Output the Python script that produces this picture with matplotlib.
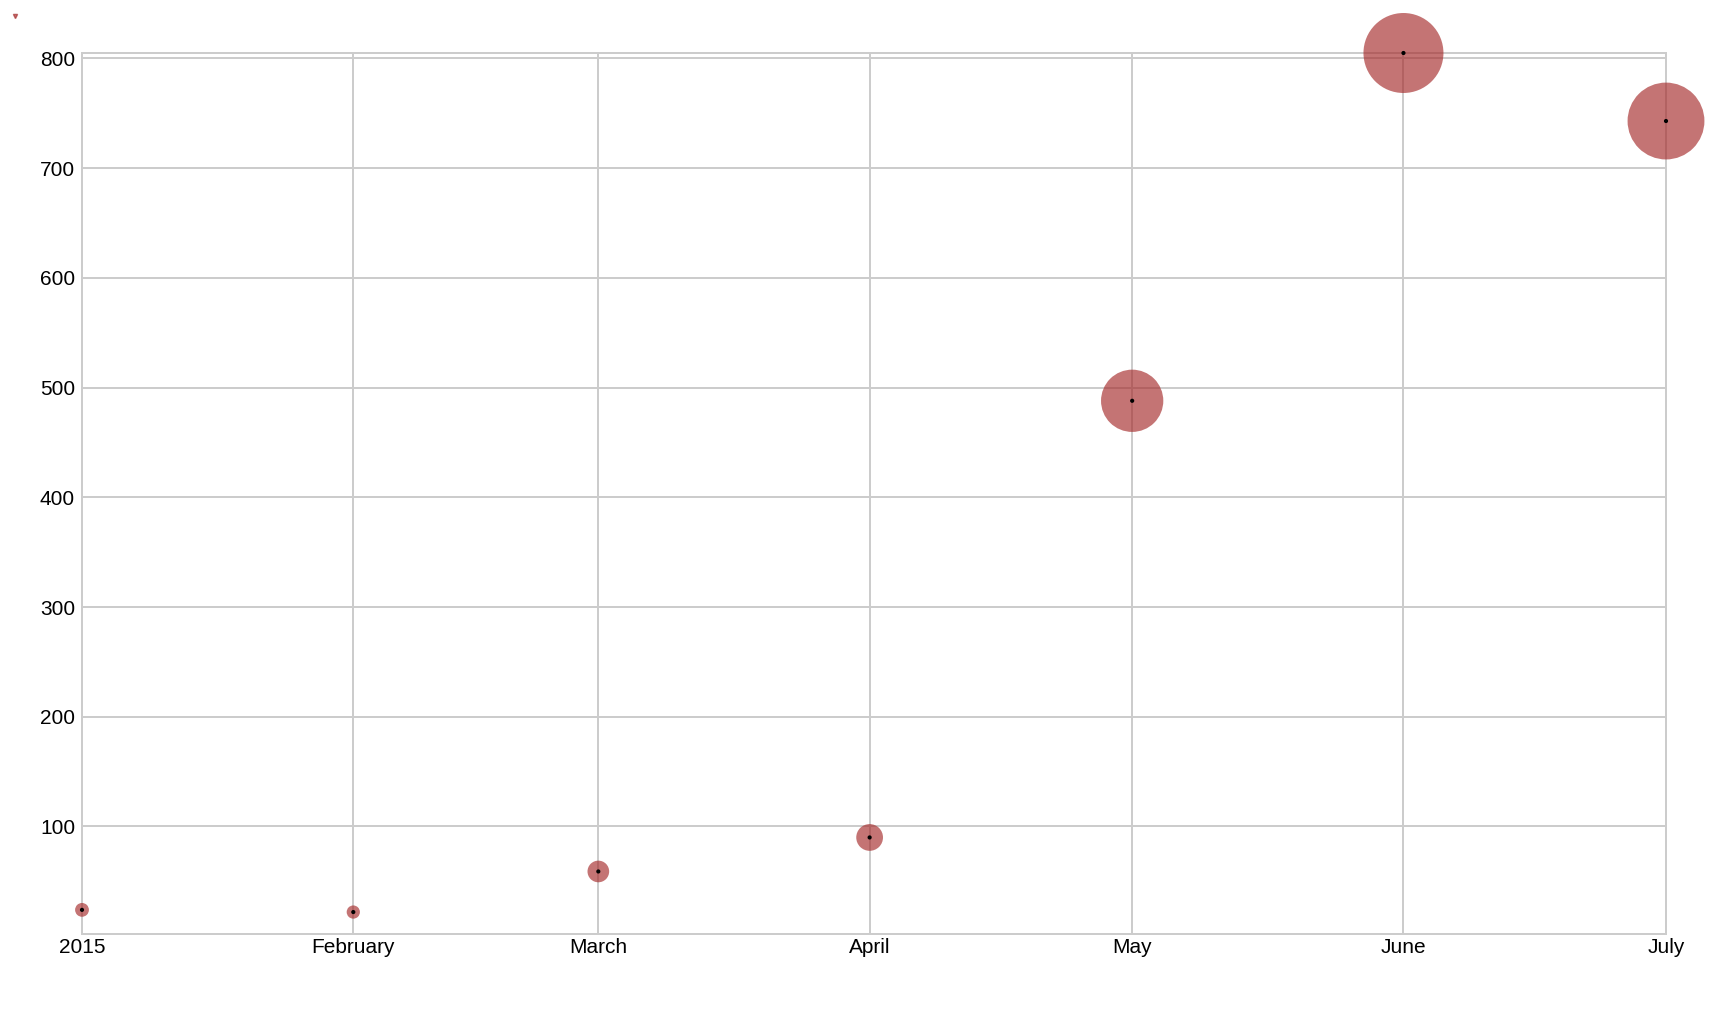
import matplotlib
matplotlib.use("Agg")
import matplotlib.pyplot as plt
import matplotlib.dates as mdates
import numpy as np
from datetime import datetime

plt.rcParams['font.family'] = ['Liberation Sans', 'DejaVu Sans']

# data
months = [datetime(2015, m, 1) for m in range(1, 8)]
values = [24, 22, 59, 90, 488, 805, 743]
tick_labels = ['2015', 'February', 'March', 'April', 'May', 'June', 'July']
y_ticks = [100, 200, 300, 400, 500, 600, 700, 800]

W, H = 1714, 1026
fig = plt.figure(figsize=(W / 100, H / 100), dpi=100)
ax = fig.add_axes([82 / W, (H - 934) / H, (1666 - 82) / W, (934 - 53) / H])

grid_c = '#cccccc'
x = mdates.date2num(months)
# bubble area grows with the value (radius ~ sqrt(value))
sizes = [4.12 * v for v in values]
ax.scatter(x, values, s=sizes, color='brown', alpha=0.65, edgecolors='none', zorder=3)
ax.scatter(x, values, s=9, color='black', edgecolors='none', zorder=4)

ax.set_xlim(x[0], x[-1])
ax.set_ylim(2, 805)
ax.set_xticks(x)
ax.set_xticklabels(tick_labels)
ax.set_yticks(y_ticks)
ax.tick_params(length=0, labelsize=15, colors='black')
ax.tick_params(axis='y', pad=5)
ax.tick_params(axis='x', pad=3)

ax.grid(True, color=grid_c, linewidth=1.44, zorder=1)
ax.set_axisbelow(True)
for sp in ax.spines.values():
    sp.set_color(grid_c)
    sp.set_linewidth(1.44)
for c in ax.collections:
    c.set_clip_on(False)

# tiny stray marker in the top-left corner
fig.lines.append(plt.Line2D([15 / W], [1 - 16 / H], marker='v', markersize=3,
                            color='brown', alpha=0.65, transform=fig.transFigure,
                            linestyle='none'))

fig.savefig('out.png', dpi=100, facecolor='white')
